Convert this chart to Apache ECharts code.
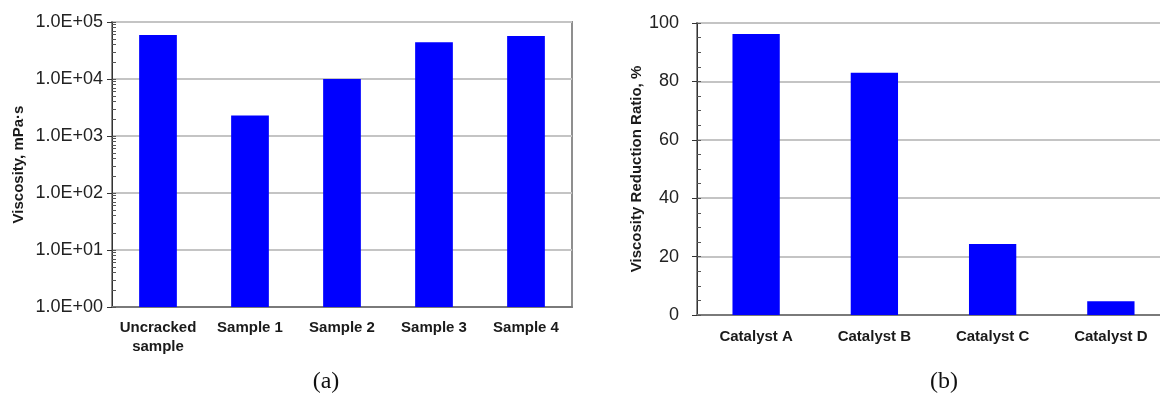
<!DOCTYPE html>
<html>
<head>
<meta charset="utf-8">
<script src="https://cdn.jsdelivr.net/npm/echarts@6/dist/echarts.min.js"></script>
<style>
html,body{margin:0;padding:0;background:#fff;overflow:hidden;width:1160px;height:398px;}
#c{width:1174px;height:398px;}
</style>
</head>
<body>
<div id="c"></div>
<script>
// ---- data ----
const samplesCategories = ['Uncracked\nsample', 'Sample 1', 'Sample 2', 'Sample 3', 'Sample 4'];
const viscosityValues = [59000, 2300, 10000, 44000, 57000];
const catalystCategories = ['Catalyst A', 'Catalyst B', 'Catalyst C', 'Catalyst D'];
const reductionValues = [96.2, 83.0, 24.3, 4.7];
const leftTickLabels = ['1.0E+00', '1.0E+01', '1.0E+02', '1.0E+03', '1.0E+04', '1.0E+05'];
const rightTickLabels = ['0', '20', '40', '60', '80', '100'];
const leftMinorTickValues = [];
for (let e = 0; e < 5; e++) for (let k = 1; k <= 10; k++) leftMinorTickValues.push(k * Math.pow(10, e));

const chart = echarts.init(document.getElementById('c'), null, {renderer: 'canvas'});
const FONT = '"Liberation Sans", Arial, sans-serif';
const TICK_FONT = {fontFamily: FONT, fontSize: 18, color: '#222'};
const CAT_FONT = {fontFamily: FONT, fontSize: 15, fontWeight: 'bold', color: '#1a1a1a', lineHeight: 19};
const NAME_FONT = {fontFamily: FONT, fontSize: 15, fontWeight: 'bold', color: '#1a1a1a'};

chart.setOption({
  animation: false,
  backgroundColor: '#ffffff',
  grid: [
    {left: 112, top: 22, width: 460, height: 285, show: true, borderColor: '#8f8f8f', borderWidth: 2, backgroundColor: 'transparent'},
    {left: 697, top: 23, width: 473, height: 292, show: true, borderColor: '#8f8f8f', borderWidth: 2, backgroundColor: 'transparent'}
  ],
  xAxis: [
    {type: 'category', gridIndex: 0, data: samplesCategories,
     axisLine: {lineStyle: {color: '#7a7a7a', width: 2}}, axisTick: {show: false},
     axisLabel: Object.assign({margin: 11, interval: 0}, CAT_FONT)},
    {type: 'category', gridIndex: 1, data: catalystCategories,
     axisLine: {lineStyle: {color: '#7a7a7a', width: 2}}, axisTick: {show: false},
     axisLabel: Object.assign({margin: 12, interval: 0}, CAT_FONT)}
  ],
  yAxis: [
    {type: 'log', gridIndex: 0, logBase: 10, min: 1, max: 100000, position: 'left',
     name: 'Viscosity, mPa·s', nameLocation: 'middle', nameGap: 86, nameTextStyle: NAME_FONT,
     axisLine: {show: true, lineStyle: {color: '#333', width: 1}},
     axisTick: {show: true, inside: false, length: 5, lineStyle: {color: '#333'}},
     axisLabel: Object.assign({margin: 9, formatter: v => leftTickLabels[Math.round(Math.log10(v))]}, TICK_FONT),
     splitLine: {show: true, lineStyle: {color: '#c4c4c4', width: 2}}},
    {type: 'log', gridIndex: 0, logBase: 10, min: 1, max: 100000, position: 'left',
     axisLine: {show: false}, axisLabel: {show: false}, splitLine: {show: false},
     axisTick: {show: true, inside: true, length: 4, customValues: leftMinorTickValues, lineStyle: {color: '#555'}}},
    {type: 'value', gridIndex: 1, min: 0, max: 100, interval: 20, position: 'left',
     name: 'Viscosity Reduction Ratio, %', nameLocation: 'middle', nameGap: 53, nameTextStyle: NAME_FONT,
     axisLine: {show: true, lineStyle: {color: '#333', width: 1}},
     axisTick: {show: true, inside: false, length: 5, lineStyle: {color: '#333'}},
     axisLabel: Object.assign({margin: 18, formatter: v => rightTickLabels[Math.round(v / 20)]}, TICK_FONT),
     splitLine: {show: true, lineStyle: {color: '#c4c4c4', width: 2}}},
    {type: 'value', gridIndex: 1, min: 0, max: 100, interval: 5, position: 'left',
     axisLine: {show: false}, axisLabel: {show: false}, splitLine: {show: false},
     axisTick: {show: true, inside: true, length: 4, lineStyle: {color: '#555'}}}
  ],
  series: [
    {type: 'bar', xAxisIndex: 0, yAxisIndex: 0, data: viscosityValues, barCategoryGap: '59%',
     itemStyle: {color: '#0000ff'}},
    {type: 'bar', xAxisIndex: 1, yAxisIndex: 2, data: reductionValues, barCategoryGap: '60%',
     itemStyle: {color: '#0000ff'}}
  ],
  graphic: [
    {type: 'text', x: 326, y: 382, style: {text: '(a)', fontFamily: '"Liberation Serif", "Times New Roman", serif', fontSize: 24, fill: '#111', align: 'center', verticalAlign: 'middle'}},
    {type: 'text', x: 944, y: 382, style: {text: '(b)', fontFamily: '"Liberation Serif", "Times New Roman", serif', fontSize: 24, fill: '#111', align: 'center', verticalAlign: 'middle'}}
  ]
});
</script>
</body>
</html>
